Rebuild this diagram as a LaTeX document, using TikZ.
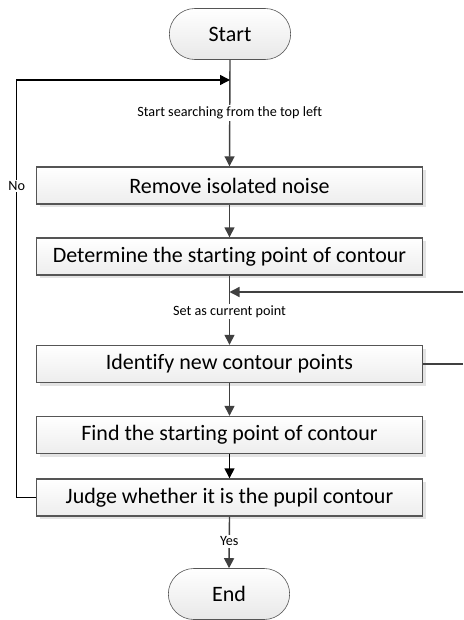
\documentclass[tikz,border=0pt]{standalone}
\usepackage{fontspec}
\setmainfont{Carlito}[Ligatures={NoCommon}]
\usetikzlibrary{arrows.meta, shapes.misc, shadows}

\definecolor{linegray}{HTML}{404040}
\definecolor{framegray}{HTML}{555555}

\tikzset{
    terminal/.style={rounded rectangle, draw=framegray, line width=0.6pt,
        top color=white, bottom color=gray!18,
        minimum width=128pt, minimum height=51pt, font=\fontsize{22}{26}\selectfont},
    process/.style={rectangle, draw=framegray, line width=1.4pt,
        top color=white, bottom color=gray!14,
        drop shadow={shadow xshift=3pt, shadow yshift=-3pt, fill=gray!22, opacity=1},
        minimum width=386pt, minimum height=37pt, font=\fontsize{22}{26}\selectfont},
    flow/.style={draw=linegray, line width=1.4pt, -{Triangle[width=10pt, length=10pt]}},
    loop/.style={draw=black, line width=1.4pt, -{Triangle[width=10pt, length=10pt]}},
    note/.style={fill=white, inner sep=1.5pt, font=\fontsize{14.2}{16}\selectfont}
}

\begin{document}
\begin{tikzpicture}[x=1pt, y=-1pt]
    \useasboundingbox (0,0) rectangle (463,620);

    % terminals and steps
    \node[terminal] (start) at (230,34) {Start};
    \node[process] (remove) at (229.5,185.5) {Remove isolated noise};
    \node[process] (determine) at (229.5,256.5) {Determine the starting point of contour};
    \node[process] (identify) at (229.5,364) {Identify new contour points};
    \node[process] (find) at (229.5,435) {Find the starting point of contour};
    \node[process] (judge) at (229.5,497.5) {Judge whether it is the pupil contour};
    \node[terminal] (end) at (229,594) {End};

    % free ends
    \coordinate (loopin) at (start.south |- 0,80);
    \coordinate (loopleft) at (16.7,80);
    \coordinate (loopbottom) at (16.7,497.5);
    \coordinate (backin) at (determine.south |- 0,292);
    \coordinate (backright) at (463,292);
    \coordinate (outright) at (463,364);

    % main flow
    \draw[flow] (start.south) -- node[note, pos=0.5] {Start searching from the top left} (remove.north);
    \draw[flow] (remove) -- (determine);
    \draw[flow] (determine.south) -- node[note, pos=0.52] {Set as current point} (identify.north);
    \draw[flow] (identify) -- (find);
    \draw[loop] (find) -- (judge);
    \draw[flow] (judge.south) -- node[note, pos=0.48] {Yes} (end.north);

    % feedback lines
    \draw[flow] (backright) -- (backin);
    \draw[draw=linegray, line width=1.4pt] (identify.east) -- (outright);
    \draw[loop] (judge.west) -- (loopbottom) -- node[note, pos=0.746] {No} (loopleft) -- (loopin);
\end{tikzpicture}
\end{document}
